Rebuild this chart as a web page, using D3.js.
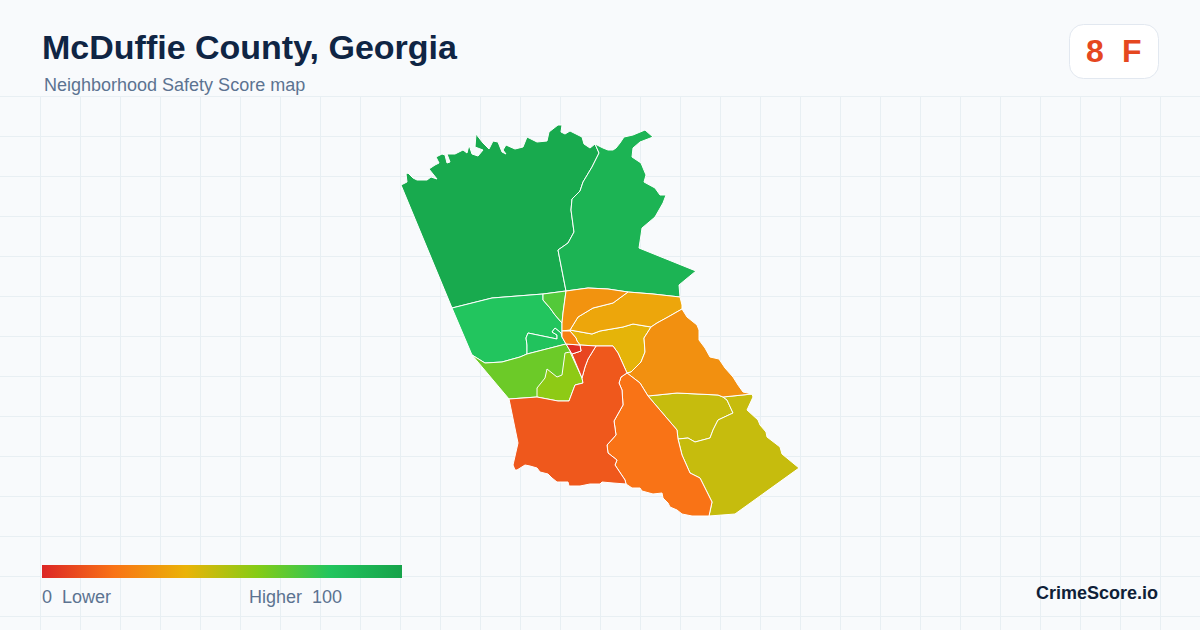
<!DOCTYPE html>
<html>
<head>
<meta charset="utf-8">
<script src="https://cdn.jsdelivr.net/npm/d3@7"></script>
<style>
  html, body { margin: 0; padding: 0; background: #f8fafc; }
  svg { display: block; }
  text { font-family: "Liberation Sans", Arial, sans-serif; }
</style>
</head>
<body>
<svg id="map" width="1200" height="630"></svg>
<script>
// Boundary pieces, in map units. Shared ones are reused so tracts meet exactly.
const nwOuter = [[401,185],[407,182],[406,174],[408,173],[413,178],[417,180],[427,180],[431,177],[437,179],[429,169],[435,165],[439,163],[436,157],[442,154],[445,155],[447,163],[450,162],[447,154],[455,154],[463,150],[467,153],[469,145],[472,154],[478,156],[483,150],[475,147],[476,134],[483,143],[489,149],[493,141],[498,142],[502,152],[506,154],[503,150],[506,145],[515,149],[523,147],[527,137],[537,142],[547,141],[549,132],[558,125],[562,125],[561,132],[565,134],[570,131],[582,137],[584,144],[590,148],[595,144]];
const nwNeBorder = [[595,144],[599,153],[592,167],[583,182],[580,191],[572,199],[571,210],[574,232],[568,243],[558,250],[566,291]];
const neOuter = [[595,144],[603,148],[608,150],[613,150],[616,148],[620,143],[624,137],[633,135],[645,130],[653,137],[640,142],[633,148],[632,157],[641,163],[646,175],[644,182],[655,188],[660,195],[666,195],[663,203],[655,217],[642,228],[641,235],[639,248],[696,271],[685,280],[679,285],[680,297]];
const midWest = [[452,308],[492,298],[543,294]];
const midA = [[543,294],[566,291]];
const midB = [[566,291],[588,288],[608,289],[628,292]];
const midC = [[628,292],[653,294],[680,297]];
const nwWest = [[452,308],[401,185]];
const limeEdge = [[543,294],[543,300],[550,308],[555,315],[562,323]];
const limeSpine = [[566,291],[563,313],[562,323]];
const spineLow = [[562,323],[562,331]];
const westOuter = [[452,308],[472,355]];
const westSouthA = [[472,355],[485,363],[502,362],[520,357],[527,354]];
const westSouthB = [[527,354],[566,344]];
const enclaveEdge = [[527,354],[527,345],[526,338],[528,333],[557,339],[557,335],[552,332],[555,328],[561,333],[562,337],[566,344]];
const centerWest = [[562,331],[562,337]];
const centerTop = [[562,331],[570,331]];
const centerEast = [[570,331],[576,338],[577,341],[580,345]];
const centerSouth = [[566,344],[580,345]];
const redSouth = [[580,345],[581,351],[572,354]];
const wedgeA = [[566,344],[572,354]];
const wedgeB = [[572,354],[582,378]];
const red2East = [[580,345],[596,346]];
const red2Right = [[596,346],[588,359],[585,367],[582,378]];
const swLimeOuter = [[472,355],[509,399]];
const swLimeSouth = [[509,399],[537,397]];
const yellowWest = [[570,352],[565,353],[562,375],[557,377],[547,369],[545,378],[537,388],[537,397]];
const yellowSouth = [[537,397],[558,401],[569,401],[575,385],[583,383],[582,378]];
const yellowWedge = [[582,378],[570,352]];
const redOrangeWest = [[509,399],[518,443],[513,465],[515,470],[517,470],[525,465],[530,466],[537,468],[540,472],[548,474],[552,478],[557,482],[568,482],[569,486],[580,486],[590,484],[600,484],[602,482],[613,483],[626,484]];
const redOrangeEast = [[626,484],[625,480],[615,465],[617,460],[608,453],[607,445],[616,435],[614,421],[623,405],[622,390],[619,383],[621,377],[627,373]];
const goldSouthWest = [[596,346],[613,346],[618,353],[627,373]];
const southOuter = [[626,484],[632,488],[640,488],[642,491],[653,494],[662,493],[663,498],[668,503],[670,507],[677,510],[682,514],[692,516],[709,516]];
const southOlive = [[709,516],[712,502],[700,478],[690,473],[682,455],[678,439],[677,430],[648,396]];
const southTop = [[627,373],[640,383],[648,396]];
const orangeSouthA = [[648,396],[677,393],[718,395],[723,397]];
const orangeSouthB = [[723,397],[752,394]];
const orangeOuter = [[752,394],[743,392],[738,385],[733,377],[725,368],[719,359],[710,357],[705,348],[699,340],[699,330],[697,325],[687,317],[682,309]];
const orangeNorth = [[682,309],[668,317],[657,323],[651,327]];
const goldEast = [[651,327],[644,338],[645,352],[641,362],[631,372],[627,373]];
const goldNorth = [[570,330],[592,334],[600,331],[623,327],[633,324],[651,327]];
const upperEnd = [[680,297],[682,305],[682,309]];
const orangeTopEdge = [[570,330],[578,317],[593,308],[613,303],[628,292]];
const oliveEastOuter = [[752,394],[753,397],[747,410],[758,420],[760,425],[766,432],[767,437],[780,447],[782,454],[799,468],[735,514],[709,516]];
const oliveSplit = [[723,397],[727,400],[733,413],[718,420],[713,430],[710,438],[695,442],[688,438],[678,439]];
const oliveNorthEnd = [[678,439],[677,430],[648,396]];

const rev = a => a.slice().reverse();
const join = (...parts) => parts.flat();

const tractScores = [96, 90, 80, 81, 70, 65, 58, 47, 47, 41, 36, 30, 29, 20, 13, 8, 2, 24];
const tractShapes = [
  join(nwOuter, nwNeBorder, rev(midA), rev(midWest), nwWest),
  join(neOuter, rev(midC), rev(midB), rev(nwNeBorder)),
  join(midWest, limeEdge, spineLow, centerWest, rev(enclaveEdge).slice(1), rev(westSouthA), rev(westOuter)),
  join(enclaveEdge, rev(westSouthB)),
  join(midA, limeSpine, rev(limeEdge)),
  join(westSouthA, westSouthB, wedgeA, wedgeB, rev(yellowSouth), rev(swLimeSouth), rev(swLimeOuter)),
  join(yellowWest, yellowSouth, yellowWedge),
  join(orangeSouthA, oliveSplit, oliveNorthEnd),
  join(orangeSouthB, oliveEastOuter, southOlive.slice(0, 6), rev(oliveSplit)),
  join(goldNorth, goldEast, rev(goldSouthWest), rev(red2East), rev(centerEast)),
  join(orangeTopEdge, midC, upperEnd, orangeNorth, rev(goldNorth)),
  join(midB, rev(orangeTopEdge), rev(spineLow), rev(limeSpine)),
  join(orangeNorth, goldEast, southTop, orangeSouthA, orangeSouthB, orangeOuter),
  join(southTop, rev(southOlive), rev(southOuter), redOrangeEast),
  join(swLimeSouth, yellowSouth, rev(red2Right), goldSouthWest, rev(redOrangeEast), rev(redOrangeWest)),
  join(red2East, red2Right, rev(wedgeB), rev(redSouth)),
  join(centerSouth, redSouth, rev(wedgeA)),
  join(centerTop, centerEast, rev(centerSouth), rev(centerWest))
];

// legend ramp
const rampStops = [0, 20, 40, 60, 80, 100];
const rampColors = ["#dc2626", "#f97316", "#eab308", "#84cc16", "#22c55e", "#16a34a"];

const titleText = "McDuffie County, Georgia";
const subtitleText = "Neighborhood Safety Score map";
const countyScore = 8;
const countyGrade = "F";

const color = d3.scaleLinear().domain(rampStops).range(rampColors);

const svg = d3.select("#map");
const width = 1200, height = 630;

svg.append("rect").attr("width", width).attr("height", height).attr("fill", "#f8fafc");

// Grid
const grid = svg.append("g").attr("stroke", "#e8eff3").attr("stroke-width", 1);
grid.selectAll(".v").data(d3.range(40.5, width, 40)).enter().append("line")
  .attr("x1", d => d).attr("x2", d => d).attr("y1", 96).attr("y2", height);
grid.selectAll(".h").data(d3.range(96.5, height, 40)).enter().append("line")
  .attr("x1", 0).attr("x2", width).attr("y1", d => d).attr("y2", d => d);

// Tracts
const features = tractShapes.map((ring, i) => ({
  type: "Feature",
  properties: { score: tractScores[i] },
  geometry: { type: "Polygon", coordinates: [ring.concat([ring[0]])] }
}));

const path = d3.geoPath(d3.geoIdentity());
svg.append("g").selectAll("path").data(features).enter().append("path")
  .attr("d", path)
  .attr("fill", d => color(d.properties.score))
  .attr("stroke", "#ffffff")
  .attr("stroke-width", 1)
  .attr("stroke-linejoin", "round");

// Heading
svg.append("text").attr("x", 42).attr("y", 59)
  .attr("font-size", 34).attr("font-weight", 700).attr("fill", "#0f2544").text(titleText);
svg.append("text").attr("x", 44).attr("y", 91)
  .attr("font-size", 18).attr("fill", "#5c7391").text(subtitleText);

// Grade badge
svg.append("rect").attr("x", 1069.5).attr("y", 24.5).attr("width", 89).attr("height", 54).attr("rx", 14)
  .attr("fill", "#ffffff").attr("stroke", "#e2e8f0");
svg.append("text").attr("x", 1086).attr("y", 62).attr("font-size", 32).attr("font-weight", 700)
  .attr("fill", "#e5471f").text(countyScore);
svg.append("text").attr("x", 1122).attr("y", 62).attr("font-size", 32).attr("font-weight", 700)
  .attr("fill", "#e5471f").text(countyGrade);

// Legend
const legendX = d3.scaleLinear().domain([0, 100]).range([42, 402]);
const grad = svg.append("defs").append("linearGradient").attr("id", "ramp");
grad.selectAll("stop").data(rampStops).enter().append("stop")
  .attr("offset", d => d + "%").attr("stop-color", d => color(d));
svg.append("rect").attr("x", legendX(0)).attr("y", 565)
  .attr("width", legendX(100) - legendX(0)).attr("height", 13).attr("fill", "url(#ramp)");
svg.append("text").attr("x", 42).attr("y", 603).attr("font-size", 18).attr("fill", "#5c7391")
  .style("white-space", "pre").text("0  Lower");
svg.append("text").attr("x", 249).attr("y", 603).attr("font-size", 18).attr("fill", "#5c7391")
  .style("white-space", "pre").text("Higher  100");

// Source
svg.append("text").attr("x", 1158).attr("y", 599).attr("text-anchor", "end")
  .attr("font-size", 18).attr("font-weight", 700).attr("fill", "#0f1f38").text("CrimeScore.io");
</script>
</body>
</html>
